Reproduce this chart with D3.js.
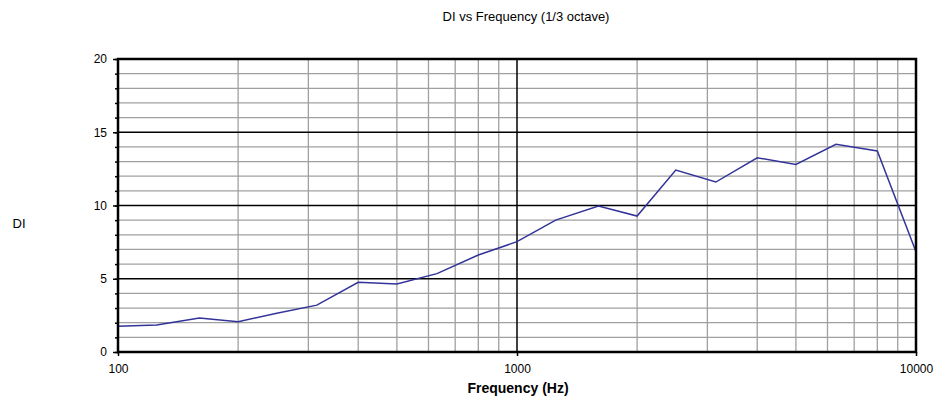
<!DOCTYPE html>
<html lang='en'>
<head>
<meta charset="utf-8">
<script src="https://d3js.org/d3.v7.min.js"></script>
<style>
  body { margin: 0; background: #fff; }
  svg { display: block; font-family: Arial, "Liberation Sans", sans-serif; }
  .axis path { display: none; }
  .axis text { font-size: 12px; fill: #000; }
</style>
</head>
<body>
<div id="chart"></div>
<script>

// 1/3 octave centre frequencies and measured DI
var freqs = [100, 125, 160, 200, 250, 315, 400, 500, 630, 800, 1000,
             1250, 1600, 2000, 2500, 3150, 4000, 5000, 6300, 8000, 10000];
var di = [1.75, 1.85, 2.32, 2.07, 2.65, 3.2, 4.76, 4.64, 5.35, 6.62, 7.53,
          9.0, 9.97, 9.28, 12.42, 11.6, 13.26, 12.8, 14.18, 13.72, 6.85];

var xMajor = [100, 1000, 10000];
var yMajor = [0, 5, 10, 15, 20];

var W = 938, H = 403;
var m = {top: 59, right: 22, bottom: 51, left: 118};

var svg = d3.select("#chart").append("svg")
    .attr("width", W)
    .attr("height", H);

var x = d3.scaleLog().domain([100, 10000]).range([m.left, W - m.right]);
var y = d3.scaleLinear().domain([0, 20]).range([H - m.bottom, m.top]);

// minor grid
var grid = svg.append("g");
grid.selectAll(".vx").data(x.ticks().filter(function(d){ return xMajor.indexOf(d) < 0; }))
  .enter().append("line")
    .attr("x1", function(d){ return x(d); }).attr("x2", function(d){ return x(d); })
    .attr("y1", y(0)).attr("y2", y(20))
    .attr("stroke", "#a0a0a0").attr("stroke-width", 1.3);
grid.selectAll(".hy").data(y.ticks(20).filter(function(d){ return d % 5 != 0; }))
  .enter().append("line")
    .attr("x1", x(100)).attr("x2", x(10000))
    .attr("y1", function(d){ return y(d); }).attr("y2", function(d){ return y(d); })
    .attr("stroke", "#a0a0a0").attr("stroke-width", 1.3);

// major grid
grid.selectAll(".vmx").data(xMajor)
  .enter().append("line")
    .attr("x1", function(d){ return x(d); }).attr("x2", function(d){ return x(d); })
    .attr("y1", y(0)).attr("y2", y(20))
    .attr("stroke", "#000").attr("stroke-width", 1.5);
grid.selectAll(".hmy").data(yMajor)
  .enter().append("line")
    .attr("x1", x(100)).attr("x2", x(10000))
    .attr("y1", function(d){ return y(d); }).attr("y2", function(d){ return y(d); })
    .attr("stroke", "#000").attr("stroke-width", 1.5);

// data line
var line = d3.line()
    .x(function(d, i){ return x(freqs[i]); })
    .y(function(d){ return y(d); });

svg.append("path")
    .datum(di)
    .attr("d", line)
    .attr("fill", "none")
    .attr("stroke", "#333399")
    .attr("stroke-width", 1.5);

// plot frame
svg.append("rect")
    .attr("x", x(100)).attr("y", y(20))
    .attr("width", x(10000) - x(100))
    .attr("height", y(0) - y(20))
    .attr("fill", "none")
    .attr("stroke", "#000")
    .attr("stroke-width", 2.5);

// axes
svg.append("g").attr("class", "axis")
    .attr("transform", "translate(" + m.left + ",0)")
    .call(d3.axisLeft(y).ticks(20).tickSize(3).tickFormat(""))
    .selectAll("line").attr("stroke", "#000").attr("stroke-width", 1.5);

svg.append("g").attr("class", "axis")
    .attr("transform", "translate(" + m.left + ",0)")
    .call(d3.axisLeft(y).tickValues(yMajor).tickSize(5).tickPadding(6))
    .selectAll("line").attr("stroke", "#000").attr("stroke-width", 1.5);

svg.append("g").attr("class", "axis")
    .attr("transform", "translate(0," + (H - m.bottom) + ")")
    .call(d3.axisBottom(x).tickValues(xMajor).tickSize(4).tickPadding(8).tickFormat(d3.format("d")))
    .selectAll("line").attr("stroke", "#000").attr("stroke-width", 1.5);

// titles
svg.append("text")
    .attr("x", 526).attr("y", 21)
    .attr("text-anchor", "middle")
    .attr("font-size", "13px")
    .text("DI vs Frequency (1/3 octave)");

svg.append("text")
    .attr("x", 19).attr("y", 228)
    .attr("text-anchor", "middle")
    .attr("font-size", "13px")
    .text("DI");

svg.append("text")
    .attr("x", 518).attr("y", 393)
    .attr("text-anchor", "middle")
    .attr("font-size", "14px")
    .attr("font-weight", "bold")
    .text("Frequency (Hz)");

</script>
</body>
</html>
